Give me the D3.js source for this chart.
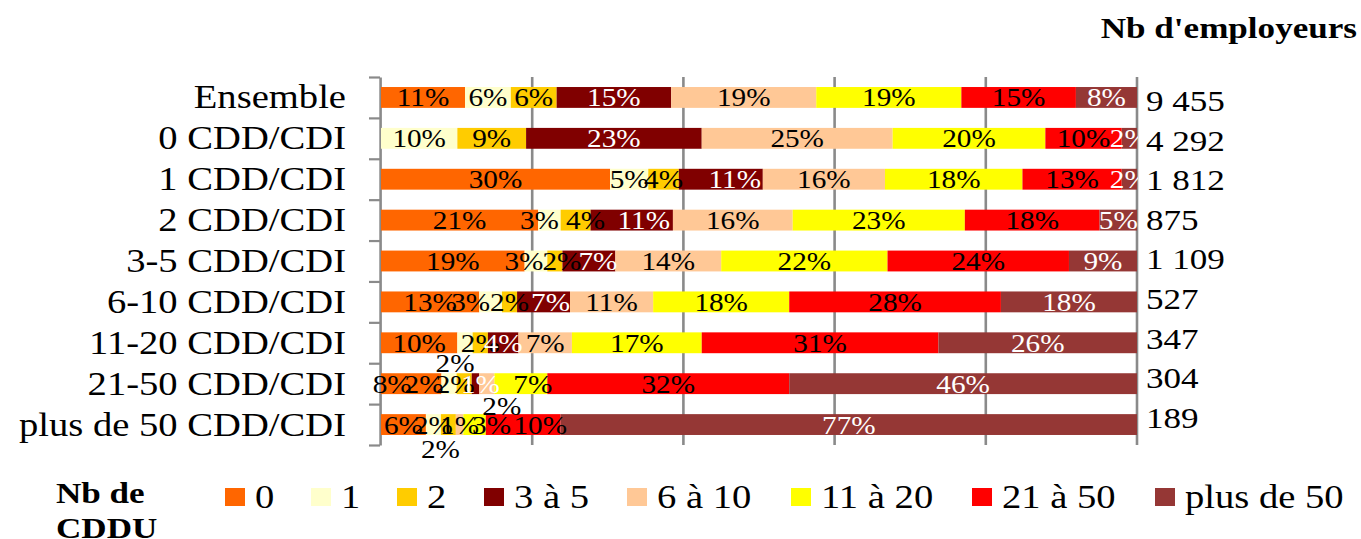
<!DOCTYPE html>
<html>
<head>
<meta charset="utf-8">
<script src="https://cdn.jsdelivr.net/npm/d3@7"></script>
<style>
  body { margin: 0; background: #fff; }
  svg { display: block; }
  text { font-family: "Liberation Serif", "Times New Roman", serif; }
</style>
</head>
<body>
<script>
'use strict';

(function() {

  // rows of the chart, top to bottom
  const categories = ["Ensemble", "0 CDD/CDI", "1 CDD/CDI", "2 CDD/CDI", "3-5 CDD/CDI",
    "6-10 CDD/CDI", "11-20 CDD/CDI", "21-50 CDD/CDI", "plus de 50 CDD/CDI"];

  // series = number of CDDU
  const seriesNames = ["0", "1", "2", "3 à 5", "6 à 10", "11 à 20", "21 à 50", "plus de 50"];

  // shares in % per series, one value per row
  const cddu0     = [11,  0, 30, 21, 19, 13, 10,  8,  6];
  const cddu1     = [ 6, 10,  5,  3,  3,  3,  2,  2,  2];
  const cddu2     = [ 6,  9,  4,  4,  2,  2,  2,  2,  2];
  const cddu3to5  = [15, 23, 11, 11,  7,  7,  4,  1,  0];
  const cddu6to10 = [19, 25, 16, 16, 14, 11,  7,  2,  1];
  const cddu11to20 = [19, 20, 18, 23, 22, 18, 17,  7,  3];
  const cddu21to50 = [15, 10, 13, 18, 24, 28, 31, 32, 10];
  const cdduOver50 = [ 8,  2,  2,  5,  9, 18, 26, 46, 77];

  // number of employers per row
  const employers = [9455, 4292, 1812, 875, 1109, 527, 347, 304, 189];

  const seriesValues = [cddu0, cddu1, cddu2, cddu3to5, cddu6to10, cddu11to20, cddu21to50, cdduOver50];

  // styles
  const colors = ["#FF6600", "#FFFFCC", "#FFCC00", "#800000", "#FFC896", "#FFFF00", "#FF0000", "#953735"];
  const labelColors = ["#000", "#000", "#000", "#fff", "#000", "#000", "#000", "#fff"];

  // labels that were moved by hand in the original (px)
  const labelNudges = [
    { row: 2, s: 3, dx: 14, dy: 0 },
    { row: 3, s: 1, dx: -10, dy: 0 }, { row: 3, s: 2, dx: 10, dy: 0 }, { row: 3, s: 3, dx: 12, dy: 0 },
    { row: 4, s: 1, dx: -12, dy: 0 }, { row: 4, s: 2, dx: 7, dy: 0 }, { row: 4, s: 3, dx: 9, dy: 0 },
    { row: 5, s: 1, dx: -20, dy: 0 }, { row: 5, s: 3, dx: 7, dy: 0 },
    { row: 6, s: 1, dx: -10, dy: 20 },
    { row: 7, s: 0, dx: -19, dy: 0 }, { row: 7, s: 1, dx: -25, dy: 0 }, { row: 7, s: 2, dx: -9, dy: 0 },
    { row: 7, s: 3, dx: 5, dy: 0 }, { row: 7, s: 4, dx: 15, dy: 22 }, { row: 7, s: 5, dx: 12, dy: 0 },
    { row: 8, s: 2, dx: -8, dy: 24 }, { row: 8, s: 5, dx: 17, dy: 0 }, { row: 8, s: 6, dx: 17, dy: 0 }
  ];

  // legend layout (px)
  const legendX = [225, 311, 397, 484, 627, 791, 972, 1155];

  // the original picture is stretched horizontally
  const SX = 1.17;
  const width = 1361, height = 539;
  const fx = (v) => v / SX;

  let svg = d3.select('body')
    .append('svg')
    .attr('width', width)
    .attr('height', height)
    .attr('viewBox', `0 0 ${width / SX} ${height}`)
    .attr('preserveAspectRatio', 'none');

  // build table for d3.stack
  let table = categories.map((c, i) => {
    let row = { cat: c };
    seriesNames.forEach((s, j) => { row[s] = seriesValues[j][i]; });
    return row;
  });
  let stacked = d3.stack().keys(seriesNames).offset(d3.stackOffsetExpand)(table);

  // scales
  let x = d3.scaleLinear().domain([0, 1]).range([fx(381), fx(1137)]);
  let y = d3.scaleBand().domain(categories)
    .range([77, 445])
    .paddingInner(0.49)
    .paddingOuter(0.245);
  let yEdge = d3.scaleLinear().domain([0, categories.length]).range([77, 445]);
  let yNum = d3.scalePoint().domain(categories).range([111, 428]);

  // gridlines
  svg.append('g')
    .selectAll('line')
    .data(x.ticks(5).filter((t) => t > 0))
    .enter()
    .append('line')
    .attr('x1', (d) => x(d))
    .attr('x2', (d) => x(d))
    .attr('y1', 77)
    .attr('y2', 445)
    .attr('stroke', '#8a8a8a')
    .attr('stroke-width', fx(2.6));

  // left axis with ticks between the rows
  let yAxis = d3.axisLeft(yEdge)
    .tickValues(d3.range(categories.length + 1))
    .tickSize(fx(11))
    .tickSizeOuter(0)
    .tickFormat('');
  let axisG = svg.append('g')
    .attr('transform', `translate(${fx(380)}, 0)`)
    .call(yAxis);
  axisG.select('.domain').attr('stroke', '#8a8a8a').attr('stroke-width', fx(2.6));
  axisG.selectAll('.tick line').attr('stroke', '#8a8a8a').attr('stroke-width', 2.2);

  // bars
  svg.append('g')
    .selectAll('g')
    .data(stacked)
    .enter()
    .append('g')
    .attr('fill', (d, i) => colors[i])
    .selectAll('rect')
    .data((d) => d)
    .enter()
    .append('rect')
    .attr('x', (d) => x(d[0]))
    .attr('width', (d) => x(d[1]) - x(d[0]))
    .attr('y', (d) => y(d.data.cat))
    .attr('height', y.bandwidth());

  // value labels, clipped at the plot's right edge
  svg.append('clipPath')
    .attr('id', 'plotClip')
    .append('rect')
    .attr('x', fx(360))
    .attr('y', 0)
    .attr('width', fx(1138) - fx(360))
    .attr('height', height);

  let labelData = [];
  stacked.forEach((layer, s) => {
    layer.forEach((d, row) => {
      let v = seriesValues[s][row];
      if (v <= 0) return;
      let n = labelNudges.find((k) => k.row === row && k.s === s) || { dx: 0, dy: 0 };
      labelData.push({
        x: (x(d[0]) + x(d[1])) / 2 + fx(n.dx),
        y: y(d.data.cat) + y.bandwidth() / 2 + 9 + n.dy,
        text: v + '%',
        color: labelColors[s]
      });
    });
  });

  svg.append('g')
    .attr('clip-path', 'url(#plotClip)')
    .selectAll('text')
    .data(labelData)
    .enter()
    .append('text')
    .attr('x', (d) => d.x)
    .attr('y', (d) => d.y)
    .attr('text-anchor', 'middle')
    .style('font-size', '25px')
    .attr('fill', (d) => d.color)
    .text((d) => d.text);

  // category labels
  svg.append('g')
    .selectAll('text')
    .data(categories)
    .enter()
    .append('text')
    .attr('x', fx(346))
    .attr('y', (d) => y(d) + y.bandwidth() / 2 + 11)
    .attr('text-anchor', 'end')
    .style('font-size', '33px')
    .attr('fill', '#000')
    .text((d) => d);

  // employer counts on the right
  let fmt = (n) => d3.format(',')(n).replace(/,/g, ' ');
  svg.append('g')
    .selectAll('text')
    .data(categories)
    .enter()
    .append('text')
    .attr('x', fx(1146))
    .attr('y', (d) => yNum(d))
    .style('font-size', '30px')
    .attr('fill', '#000')
    .text((d, i) => fmt(employers[i]));

  svg.append('text')
    .attr('x', fx(1357))
    .attr('y', 38)
    .attr('text-anchor', 'end')
    .style('font-size', '30px')
    .style('font-weight', 'bold')
    .text("Nb d'employeurs");

  // legend
  svg.append('text')
    .attr('x', fx(56))
    .attr('y', 503)
    .style('font-size', '30px')
    .style('font-weight', 'bold')
    .text('Nb de');
  svg.append('text')
    .attr('x', fx(56))
    .attr('y', 538)
    .style('font-size', '30px')
    .style('font-weight', 'bold')
    .text('CDDU');

  let legend = svg.append('g')
    .selectAll('g')
    .data(seriesNames)
    .enter()
    .append('g')
    .attr('transform', (d, i) => `translate(${fx(legendX[i])}, 0)`);
  legend.append('rect')
    .attr('x', 0)
    .attr('y', 488)
    .attr('width', fx(20))
    .attr('height', 18)
    .attr('fill', (d, i) => colors[i]);
  legend.append('text')
    .attr('x', fx(30))
    .attr('y', 508)
    .style('font-size', '33px')
    .text((d) => d);

})();
</script>
</body>
</html>
